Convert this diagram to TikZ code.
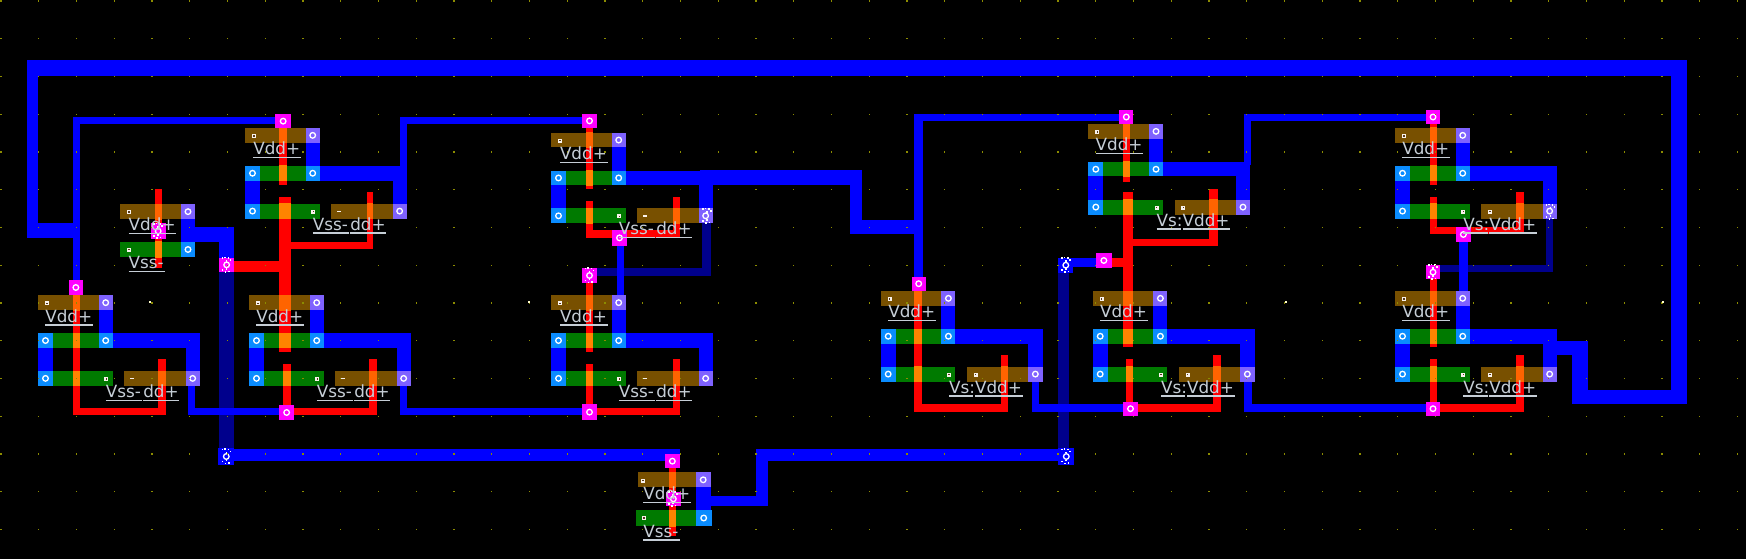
\documentclass[tikz,border=0pt]{standalone}
\usepackage{fontspec}
\setmainfont{DejaVu Sans}
\definecolor{blueM}{HTML}{0000FF}
\definecolor{navyM}{HTML}{00008C}
\definecolor{greenD}{HTML}{007A00}
\definecolor{brownP}{HTML}{785000}
\definecolor{redP}{HTML}{FF0000}
\definecolor{orgG}{HTML}{FF8400}
\definecolor{orgB}{HTML}{FF6400}
\definecolor{ctBlue}{HTML}{0A8CFF}
\definecolor{ctViolet}{HTML}{7F62FF}
\definecolor{ctMag}{HTML}{FF00FF}
\definecolor{gridY}{HTML}{8C8C00}
\definecolor{txtG}{HTML}{C6CED6}
\tikzset{
  lbl/.style={inner sep=0pt,outer sep=0pt,text=txtG,font=\fontsize{16.8}{20}\selectfont,anchor=base west},
  ul/.style={draw=txtG,line width=1.3pt},
  ring/.style={draw=white,line width=1.3pt}
}
\newcommand\Fr[5]{\fill[#1] (#2,#3) rectangle (#4,#5);}
\newcommand\Bw[4]{\Fr{blueM}{#1}{#2}{#3}{#4}}
\newcommand\Nw[4]{\Fr{navyM}{#1}{#2}{#3}{#4}}
\def\redc{redP}
\newcommand\Rr[4]{\Fr{\redc}{#1}{#2}{#3}{#4}}
\newcommand\Ct[5]{\Fr{#1}{#2}{#3}{#4}{#5}\draw[ring] ({(#2+#4)/2},{(#3+#5)/2}) circle[radius=2.8pt];}
\newcommand\Ms[2]{\foreach \dx/\dy in {-4/-7,-1.5/-7.5,2/-7,4/-5,-4/5,-1/7,2.5/6.5,0/-4,0/4}{\fill[white] ({#1+\dx-.7},{#2+\dy-.7}) rectangle ({#1+\dx+.7},{#2+\dy+.7});}}
\newcommand\Sq[2]{\fill[white!90!brown] ({#1-2},{#2-2}) rectangle ({#1+2},{#2+2});\fill[black!55!brown] ({#1-.7},{#2-.7}) rectangle ({#1+.7},{#2+.7});}
\newcommand\Lab[5]{\node[lbl] (#1) at (#2,#3-3) {#4};\draw[ul] (#2,#3) -- (#5,#3);}
% name, x, y, label offset, type
\def\Cells{%
 \Cel{a}{38}{295.3}{7.3}{1}%
 \Cel{b}{249}{295.3}{7.3}{1}%
 \Cel{c}{245}{128}{8.3}{1}%
 \Cel{d}{551}{132.7}{9}{1}%
 \Cel{e}{551}{295.3}{9}{1}%
 \Cel{f}{880.7}{291}{7.6}{2}%
 \Cel{g}{1092.7}{291}{7.3}{2}%
 \Cel{h}{1088.3}{124}{7.3}{2}%
 \Cel{i}{1395}{128}{7.3}{2}%
 \Cel{j}{1395}{291}{7.3}{2}%
}
\def\Reds{%
 \Rr{73}{280}{80}{415.3}\Rr{73}{408.3}{166}{415.3}\Rr{157.7}{359.3}{166}{415.3}%
 \Rr{154.7}{189.3}{161.7}{268}%
 \Rr{279.3}{120}{286.7}{185}\Rr{279.3}{196.7}{291}{351.7}\Rr{233}{260.7}{291}{272}\Rr{279}{241.7}{373.3}{248.7}\Rr{366.7}{192}{373.3}{248.7}%
 \Rr{282.7}{364}{291}{412}\Rr{285}{408.3}{376.7}{415.3}\Rr{369.3}{359.3}{376.7}{415.3}%
 \Rr{586}{120}{593.3}{189}\Rr{586}{201}{593.3}{238.3}\Rr{586}{230}{680}{238.3}\Rr{673.3}{196.7}{680}{238.3}%
 \Rr{586}{275}{593.3}{351.7}\Rr{586}{364}{593.3}{412}\Rr{590}{408.3}{680}{415.3}\Rr{673.3}{359.3}{680}{415.3}%
 \Rr{914.3}{283}{922.3}{411.7}\Rr{914.3}{404.3}{1008.3}{411.7}\Rr{1001.3}{355}{1008.3}{411.7}%
 \Rr{1123.3}{117}{1130.3}{181.7}\Rr{1123.3}{192.3}{1133.3}{347.3}\Rr{1103}{257.7}{1133}{266.7}\Rr{1123}{238.7}{1217.7}{246}\Rr{1209.3}{189.3}{1217.7}{246}%
 \Rr{1126}{359.3}{1133.3}{409}\Rr{1130}{404.3}{1220.7}{411.7}\Rr{1213.3}{355}{1220.7}{411.7}%
 \Rr{1430}{117}{1437}{185}\Rr{1430}{196.7}{1437}{234}\Rr{1430}{227.3}{1524}{234}\Rr{1515.7}{192.3}{1524}{234}%
 \Rr{1430}{272}{1437}{347.3}\Rr{1430}{359.3}{1437}{409}\Rr{1433}{404.3}{1524}{411.7}\Rr{1515.7}{355}{1524}{411.7}%
 \Rr{669}{460}{676.3}{536}%
}
\newcommand\Over[5]{\begin{scope}\clip (#2,#3) rectangle (#4,#5);\def\redc{#1}\Reds\end{scope}}
\begin{document}
\begin{tikzpicture}[x=1pt,y=-1pt]
\useasboundingbox (0,0) rectangle (1746,559);
\fill[black] (0,0) rectangle (1746,559);
% diffusion and poly plates
\def\Cel#1#2#3#4#5{%
 \Fr{brownP}{#2}{#3}{#2+74.7}{#3+14.7}%
 \Fr{greenD}{#2}{#3+38}{#2+74.7}{#3+52.5}%
 \Fr{greenD}{#2}{#3+75.7}{#2+74.7}{#3+90.5}%
 \Fr{brownP}{#2+86.3}{#3+75.7}{#2+161.8}{#3+90.5}}
\Cells
\Fr{brownP}{119.7}{204}{195}{219.3}\Fr{greenD}{119.7}{241.7}{195}{257.3}
\Fr{brownP}{638.3}{472.3}{710.7}{487.3}\Fr{greenD}{636}{510}{711.7}{526}
% lower metal
\Nw{219}{265}{234.3}{462}\Nw{702.3}{219}{710.7}{275.7}\Nw{590}{267.7}{710.7}{275.7}
\Nw{1058.3}{265}{1069.3}{460}\Nw{1546}{219}{1553.3}{271.7}\Nw{1433}{265}{1553.3}{271.7}
% metal
\def\Cel#1#2#3#4#5{%
 \Bw{#2}{#3+38}{#2+15}{#3+90.5}%
 \Bw{#2+60.7}{#3}{#2+74.7}{#3+52.5}%
 \Bw{#2+60.7}{#3+38}{#2+161.8}{#3+52.5}%
 \Bw{#2+147.5}{#3+38}{#2+161.8}{#3+90.5}}
\Cells
\Bw{26.7}{60}{1686.7}{76}\Bw{26.7}{60}{38}{238}\Bw{26.7}{223.3}{80}{238.3}
\Bw{1671}{60}{1686.7}{404}\Bw{1572}{390}{1686.7}{404}\Bw{1572}{340.7}{1587.7}{404}\Bw{1550}{340.7}{1587.7}{355.3}
\Bw{73}{116.7}{80}{282}\Bw{73}{116.7}{280}{123.7}
\Bw{181}{204}{195}{257.3}\Bw{181}{227}{234.3}{241.7}\Bw{219}{227}{234.3}{260}
\Bw{188}{385}{195.3}{415.3}\Bw{188}{408.3}{285}{415.3}
\Bw{400}{385}{407.3}{415.3}\Bw{400}{408.3}{585}{415.3}
\Bw{400}{116.7}{407.3}{170}\Bw{400}{116.7}{585}{123.7}
\Bw{700}{170.3}{861.7}{185}\Bw{850}{170.3}{861.7}{234}\Bw{850}{220}{923}{234}
\Bw{914.3}{114}{923.3}{280}\Bw{914.3}{114}{1122}{121}\Bw{616.7}{240}{624}{296}
\Bw{1032}{380}{1039.3}{411.7}\Bw{1032}{404.3}{1125}{411.7}
\Bw{1244}{380}{1251.7}{411.7}\Bw{1244}{404.3}{1428}{411.7}
\Bw{1244}{114}{1251}{165}\Bw{1244}{114}{1428}{121}
\Bw{1058.3}{257.7}{1100}{266.7}\Bw{1459.3}{240}{1467.7}{295}
\Bw{226}{449}{680}{461}\Bw{756}{449}{1064}{461}
\Bw{695.7}{472.3}{710.7}{526}\Bw{700}{495.7}{767.7}{506}\Bw{756}{449}{767.7}{506}
% poly
\Reds
\def\Cel#1#2#3#4#5{%
 \Over{orgB}{#2}{#3}{#2+60.7}{#3+14.7}%
 \Over{orgG}{#2+15}{#3+38}{#2+60.7}{#3+52.5}%
 \Over{orgG}{#2+15}{#3+75.7}{#2+74.7}{#3+90.5}%
 \Over{orgB}{#2+86.3}{#3+75.7}{#2+147.5}{#3+90.5}}
\Cells
\Over{orgB}{119.7}{204}{181}{219.3}\Over{orgG}{119.7}{241.7}{181}{257.3}
\Over{orgB}{638.3}{472.3}{695.7}{487.3}\Over{orgG}{636}{510}{695.7}{526}
% contacts of the cells
\def\Cel#1#2#3#4#5{%
 \Ct{ctViolet}{#2+60.7}{#3}{#2+74.7}{#3+14.7}%
 \Ct{ctBlue}{#2}{#3+38}{#2+15}{#3+52.5}%
 \Ct{ctBlue}{#2+60.7}{#3+38}{#2+74.7}{#3+52.5}%
 \Ct{ctBlue}{#2}{#3+75.7}{#2+15}{#3+90.5}%
 \Ct{ctViolet}{#2+147.5}{#3+75.7}{#2+161.8}{#3+90.5}%
 \Sq{#2+9}{#3+8}\Sq{#2+68.3}{#3+83.5}%
 \ifnum#5=1 \fill[white!90!brown] (#2+91.5,#3+82.5) rectangle (#2+96,#3+84);\else\Sq{#2+95}{#3+83.5}\fi}
\Cells
% single inverters
\Ct{ctViolet}{181}{204}{195}{219.3}\Ct{ctBlue}{181}{241.7}{195}{257.3}
\Sq{129}{212}\Sq{129}{249.5}
\Ct{ctViolet}{695.7}{472.3}{710.7}{487.3}\Ct{ctBlue}{695.7}{510}{711.7}{526}
\Sq{643}{480.5}\Sq{644}{518}
% poly to metal contacts
\Ct{ctMag}{275.3}{114}{291}{128.3}\Ct{ctMag}{68.7}{280}{83}{295}
\Ct{ctMag}{150.7}{223.3}{165.7}{239}\Ct{ctMag}{219}{257.7}{234.3}{272}
\Ct{ctMag}{279.3}{405}{294}{420}\Ct{ctMag}{581.7}{114}{597.3}{127.7}
\Ct{ctMag}{612.3}{230}{626.7}{245.7}\Ct{ctMag}{581.7}{267.7}{597.3}{283.3}
\Ct{ctMag}{581.7}{404.3}{597.3}{420}\Ct{ctMag}{911.7}{276.7}{925.7}{290.7}
\Ct{ctMag}{1123.3}{401.7}{1137.7}{415.7}\Ct{ctMag}{1119.3}{110}{1133.3}{124}
\Ct{ctMag}{1096}{253.3}{1111.7}{267.7}\Ct{ctMag}{1426}{401.7}{1440}{415.7}
\Ct{ctMag}{1426}{110}{1440}{124}\Ct{ctMag}{1456}{227.3}{1470.7}{241.7}
\Ct{ctMag}{1426}{265}{1440}{279.3}\Ct{ctMag}{664.7}{454}{680}{468.3}
\Ct{ctMag}{665.7}{491.7}{681}{506}
% stacked vias
\Ct{blueM}{218.3}{448}{234.3}{465}\Ct{blueM}{1058.3}{448}{1074.3}{465}\Ct{blueM}{1058.3}{257.7}{1073.3}{272.7}
\Ms{226.5}{265}\Ms{226.3}{456.5}\Ms{1066}{456.5}\Ms{1066}{265}\Ms{589.5}{275.5}\Ms{1433}{272}\Ms{707}{216}\Ms{1550.5}{212}\Ms{158}{231}\Ms{673}{499}
% grid
\foreach \i in {0,...,46}{\foreach \j in {0,...,14}{
  \fill[gridY] ({1+37.75*\i-.7},{1+37.75*\j-.7}) rectangle ({1+37.75*\i+.7},{1+37.75*\j+.7});}}
\foreach \p/\q in {150/302,529.3/302,1286/302,1663/302}{\fill[white!80!yellow] (\p-1,\q-1) rectangle (\p+1,\q+1);}
% labels
\def\Cel#1#2#3#4#5{%
 \Lab{#1vdd}{#2+#4}{#3+29.7}{Vdd+}{#2+#4+47.5}%
 \ifnum#5=1
  \Lab{#1vss}{#2+67.8}{#3+105}{Vss-}{#2+104}%
  \Lab{#1dd}{#2+105.3}{#3+105}{dd+}{#2+141}%
 \else
  \Lab{#1vss}{#2+68.3}{#3+105}{Vs:}{#2+92.7}%
  \Lab{#1vdd2}{#2+94.3}{#3+105}{Vdd+}{#2+142}%
 \fi}
\Cells
\Lab{kvdd}{128.7}{233.3}{Vdd+}{176.3}
\Lab{kvss}{128.7}{271.3}{Vss-}{164.7}
\Lab{zvdd}{643.3}{502.3}{Vdd+}{690.7}
\Lab{zvss}{643.3}{540}{Vss-}{680}
\end{tikzpicture}
\end{document}
